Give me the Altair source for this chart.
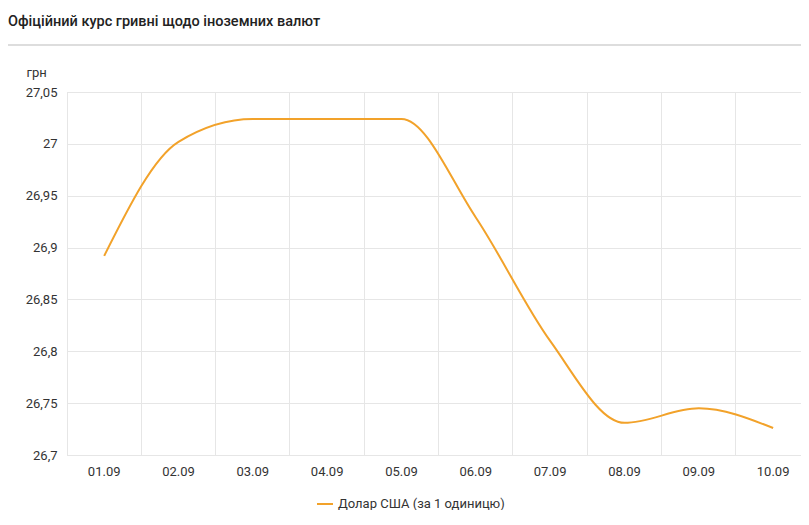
import altair as alt
import pandas as pd

dates = ["01.09", "02.09", "03.09", "04.09", "05.09", "06.09", "07.09", "08.09", "09.09", "10.09"]
usd = [26.892, 27.002, 27.024, 27.024, 27.024, 26.929, 26.810, 26.731, 26.745, 26.726]
series_name = "Долар США (за 1 одиницю)"
y_ticks = [26.7, 26.75, 26.8, 26.85, 26.9, 26.95, 27.0, 27.05]
title_text = "Офіційний курс гривні щодо іноземних валют"

df = pd.DataFrame({"date": dates, "rate": usd, "series": [series_name] * len(dates)})
one = pd.DataFrame({"k": [0]})

W = 734
STEP = 74.33
FONT = "Roboto"

line = alt.Chart(df).mark_line(interpolate="monotone", strokeWidth=2).encode(
    x=alt.X("date:O", sort=dates,
            scale=alt.Scale(type="band", paddingInner=0, paddingOuter=0, range=[0, STEP * len(dates)]),
            axis=alt.Axis(title=None, bandPosition=0, labelAngle=0,
                          ticks=False, domain=False, grid=True, gridColor="#e6e6e6",
                          labelFontSize=13, labelColor="#333", labelPadding=10, labelFont=FONT)),
    y=alt.Y("rate:Q", scale=alt.Scale(domain=[26.7, 27.05], nice=False, zero=False),
            axis=alt.Axis(values=y_ticks, title="грн", titleAngle=0, titleX=-41, titleY=-20,
                          titleAlign="left", titleBaseline="middle", titleFontWeight="normal",
                          titleFontSize=13, titleColor="#333", titleFont=FONT,
                          labelExpr="replace(format(datum.value, '.2~f'), '.', ',')",
                          ticks=False, domain=True, domainColor="#e6e6e6", gridColor="#e6e6e6",
                          labelFontSize=13, labelColor="#333", labelPadding=10, labelFont=FONT)),
    color=alt.Color("series:N", scale=alt.Scale(range=["#f2a22a"]),
                    legend=alt.Legend(title=None, orient="none", legendX=249, legendY=403,
                                      symbolType="stroke", symbolSize=256, symbolStrokeWidth=2,
                                      labelFontSize=13, labelColor="#333", labelFont=FONT,
                                      labelLimit=0, padding=0)),
)

sep = alt.Chart(one).mark_rule(color="#dddddd", strokeWidth=2).encode(
    x=alt.value(-59), x2=alt.value(W), y=alt.value(-47)
)

title = alt.Chart(one).mark_text(align="left", baseline="middle", fontSize=14.5, fontWeight=500,
                                 font=FONT, color="#222").encode(
    x=alt.value(-59), y=alt.value(-70), text=alt.value(title_text)
)

chart = alt.layer(sep, title, line).properties(
    width=W, height=363,
    autosize=alt.AutoSizeParams(type="none"),
    padding={"left": 59, "top": 84, "right": 0, "bottom": 55},
).configure_view(stroke=None).configure(font=FONT)

chart.save("out.html", embed_options={"renderer": "svg", "actions": False})
